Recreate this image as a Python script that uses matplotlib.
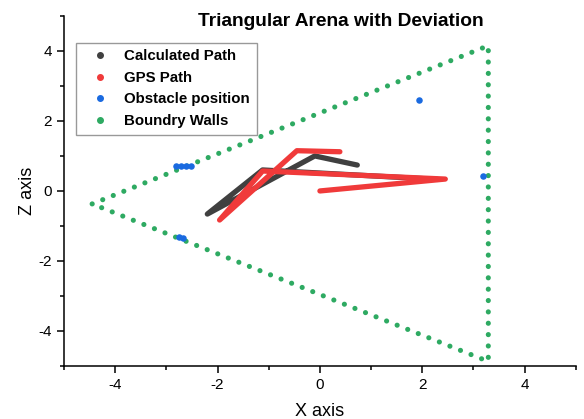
import matplotlib
matplotlib.use("Agg")
import matplotlib.pyplot as plt
from matplotlib.lines import Line2D
from matplotlib.ticker import MultipleLocator

plt.rcParams['font.family'] = ['Liberation Sans', 'DejaVu Sans']
plt.rcParams['axes.unicode_minus'] = False

# path vertices
calc_x = [2.3, -1.12, -2.2, -0.10, 0.73]
calc_z = [0.33, 0.60, -0.66, 1.00, 0.74]

gps_x = [0.0, 2.45, -1.12, -1.96, -0.45, 0.39]
gps_z = [0.0, 0.34, 0.57, -0.83, 1.15, 1.12]

obs_x = [-2.82, -2.72, -2.62, -2.52, -2.76, -2.68, 3.18, 1.94]
obs_z = [0.72, 0.72, 0.71, 0.71, -1.31, -1.33, 0.44, 2.61]

wall_x = [-4.45, 3.29, 3.29, -4.45]
wall_z = [-0.37, 4.15, -4.87, -0.37]

c_calc = '#404040'
c_gps = '#f03a3a'
c_obs = '#1a6ae0'
c_wall = '#2eaa62'

fig = plt.figure(figsize=(5.84, 4.19), dpi=100)
ax = fig.add_axes([0.1096, 0.1265, 0.8764, 0.8355])

ax.plot(wall_x, wall_z, color=c_wall, lw=3.7, ls=(0, (0.01, 2.2)),
        dash_capstyle='round', zorder=1)
ax.plot(calc_x, calc_z, color=c_calc, lw=3.8, solid_capstyle='round',
        solid_joinstyle='round', zorder=2)
ax.plot(gps_x, gps_z, color=c_gps, lw=3.8, solid_capstyle='round',
        solid_joinstyle='round', zorder=3)
ax.scatter(obs_x, obs_z, s=22, color=c_obs, zorder=4, linewidths=0)

ax.set_xlim(-5, 5)
ax.set_ylim(-5, 5)
ax.xaxis.set_major_locator(MultipleLocator(2))
ax.xaxis.set_minor_locator(MultipleLocator(1))
ax.yaxis.set_major_locator(MultipleLocator(2))
ax.yaxis.set_minor_locator(MultipleLocator(1))
ax.tick_params(which='major', direction='out', length=5, width=1.1, labelsize=11)
ax.tick_params(which='minor', direction='out', length=3, width=1.1)
ax.spines['top'].set_visible(False)
ax.spines['right'].set_visible(False)
for s in ['left', 'bottom']:
    ax.spines[s].set_linewidth(1.1)

ax.set_xlabel('X axis', fontsize=13, labelpad=8)
ax.set_ylabel('Z axis', fontsize=13, labelpad=2)

fig.text(341 / 584, 1 - 22 / 419, 'Triangular Arena with Deviation',
         ha='center', va='center', fontsize=13.8, fontweight='bold')

handles = [
    Line2D([], [], marker='o', ls='none', color=c_calc, markersize=4),
    Line2D([], [], marker='o', ls='none', color=c_gps, markersize=4),
    Line2D([], [], marker='o', ls='none', color=c_obs, markersize=4),
    Line2D([], [], marker='o', ls='none', color=c_wall, markersize=4),
]
labels = ['Calculated Path', 'GPS Path', 'Obstacle position', 'Boundry Walls']
leg = ax.legend(handles, labels, loc='upper left', bbox_to_anchor=(0.008, 0.945),
                prop={'weight': 'bold', 'size': 10.8}, fancybox=False,
                edgecolor='#999999', framealpha=1, handletextpad=0.4,
                borderpad=0.45, labelspacing=0.5, handlelength=2.4)
leg.get_frame().set_linewidth(1.0)

fig.savefig('out.png', dpi=100)
